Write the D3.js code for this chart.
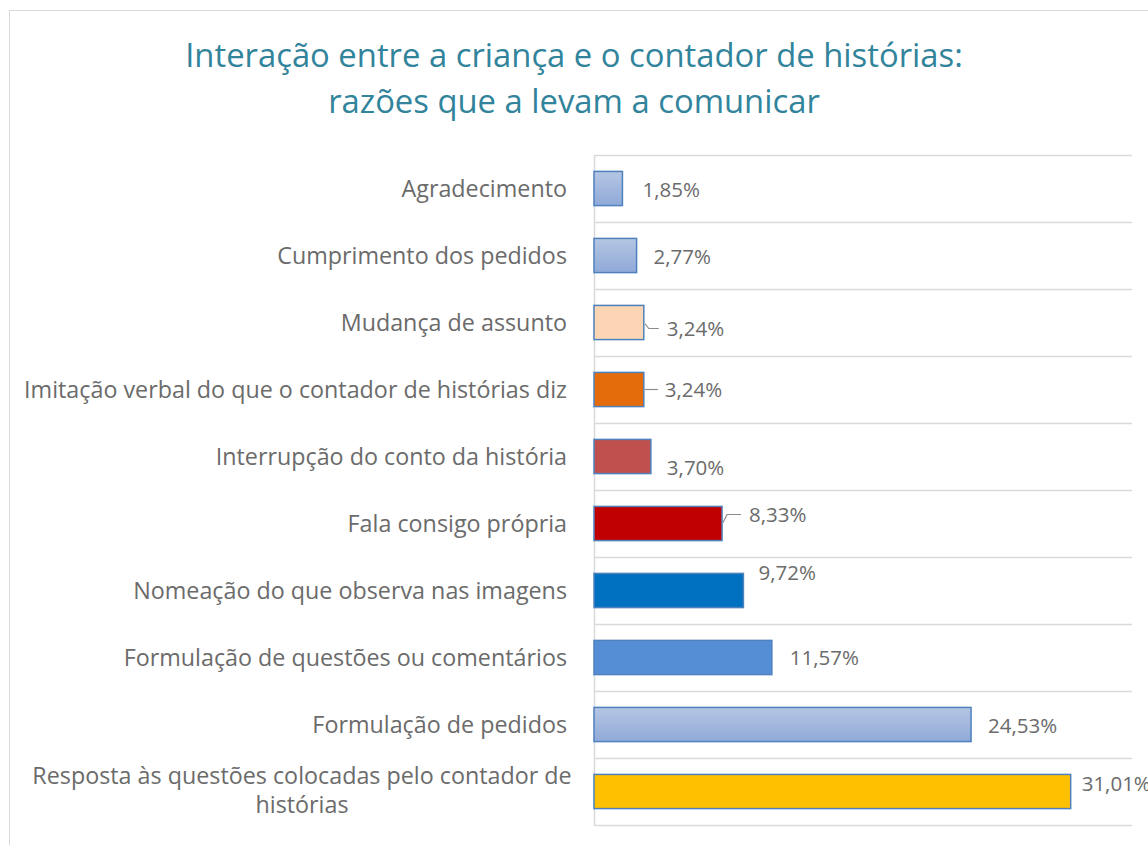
<!DOCTYPE html>
<html>
<head>
<meta charset="utf-8">
<script src="https://cdn.jsdelivr.net/npm/d3@7"></script>
<style>
    body { margin: 0; background: #fff; }
    svg { display: block; font-family: "Open Sans", "Noto Sans", sans-serif; }
</style>
</head>
<body>
<div id="chart"></div>
<script>
"use strict";

// Categories, top to bottom as drawn.
var categories = [
    "Agradecimento",
    "Cumprimento dos pedidos",
    "Mudança de assunto",
    "Imitação verbal do que o contador de histórias diz",
    "Interrupção do conto da história",
    "Fala consigo própria",
    "Nomeação do que observa nas imagens",
    "Formulação de questões ou comentários",
    "Formulação de pedidos",
    "Resposta às questões colocadas pelo contador de histórias"
];
var values = [1.85, 2.77, 3.24, 3.24, 3.70, 8.33, 9.72, 11.57, 24.53, 31.01];
var valueLabels = ["1,85%", "2,77%", "3,24%", "3,24%", "3,70%", "8,33%", "9,72%", "11,57%", "24,53%", "31,01%"];
var fills = ["grad", "grad", "#fcd5b5", "#e46c0a", "#c0504d", "#c00000", "#0070c0", "#558ed5", "grad", "#ffc000"];

// Hand-placed data label offsets (dx from bar end, dy from bar centre) and leader lines.
var labelNudge = [[20, 1], [17, 1.5], [23, 6], [21, 0.5], [16, 11], [27, -9], [15, -17.5], [18, 0], [17, 1.5], [11, -7.5]];
var leaders = [null, null, "down", "flat", null, "up", null, null, null, null];

var width = 1148, height = 845;
var plot = {left: 594, right: 1132, top: 155, bottom: 825};

var svg = d3.select("#chart").append("svg")
    .attr("width", width)
    .attr("height", height);

var defs = svg.append("defs");
var grad = defs.append("linearGradient")
    .attr("id", "lightblue")
    .attr("x1", 0).attr("y1", 0).attr("x2", 0).attr("y2", 1);
grad.append("stop").attr("offset", "0%").attr("stop-color", "#b5c6e3");
grad.append("stop").attr("offset", "100%").attr("stop-color", "#8fa9d8");

// Chart frame, cut off at the right and bottom like the reference.
svg.append("rect")
    .attr("x", 9.5).attr("y", 10.5)
    .attr("width", 1200).attr("height", 900)
    .attr("fill", "none")
    .attr("stroke", "#d9d9d9");

// Title
var title = svg.append("text")
    .attr("text-anchor", "middle")
    .attr("fill", "#31849b")
    .style("font-size", "32.8px");
title.append("tspan").attr("x", 574).attr("y", 67)
    .text("Interação entre a criança e o contador de histórias:");
title.append("tspan").attr("x", 574).attr("y", 113)
    .text("razões que a levam a comunicar");

var xScale = d3.scaleLinear()
    .domain([0, 35])
    .range([plot.left, plot.right]);

var yScale = d3.scaleBand()
    .domain(categories)
    .range([plot.top, plot.bottom])
    .paddingInner(0.49)
    .paddingOuter(0.245);

var step = yScale.step();

// Horizontal gridlines at the category boundaries.
svg.append("g")
    .selectAll("line")
    .data(d3.range(categories.length + 1))
    .enter()
    .append("line")
    .attr("x1", plot.left).attr("x2", plot.right)
    .attr("y1", function(i) { return Math.round(plot.top + i * step) + 0.5; })
    .attr("y2", function(i) { return Math.round(plot.top + i * step) + 0.5; })
    .attr("stroke", "#d9d9d9")
    .attr("stroke-width", 1.5);

// Category axis on the left.
var yAxis = d3.axisLeft(yScale).tickSize(0).tickPadding(27);
var axisG = svg.append("g")
    .attr("transform", "translate(" + plot.left + ",0)")
    .call(yAxis);
axisG.select(".domain")
    .attr("stroke", "#d9d9d9")
    .attr("stroke-width", 1.5);
axisG.selectAll(".tick text")
    .attr("fill", "#6b6b6b")
    .attr("dy", "0.38em")
    .style("font-size", "23.3px")
    .style("font-family", "\"Open Sans\", sans-serif")
    .each(function(d) {
        // Wrap the long last category in two centred lines.
        if (d.indexOf("Resposta") === 0) {
            var t = d3.select(this);
            t.text(null).attr("text-anchor", "middle").attr("dy", null);
            t.append("tspan").attr("x", -292).attr("dy", "-0.32em")
                .text("Resposta às questões colocadas pelo contador de");
            t.append("tspan").attr("x", -292).attr("dy", "1.24em")
                .text("histórias");
        }
    });

// Bars
svg.append("g")
    .selectAll("rect")
    .data(categories)
    .enter()
    .append("rect")
    .attr("x", xScale(0))
    .attr("y", function(d) { return yScale(d); })
    .attr("width", function(d, i) { return xScale(values[i]) - xScale(0); })
    .attr("height", yScale.bandwidth())
    .attr("fill", function(d, i) { return fills[i] === "grad" ? "url(#lightblue)" : fills[i]; })
    .attr("stroke", "#4f81bd")
    .attr("stroke-width", 1.5);

// Leader lines
svg.append("g")
    .selectAll("path")
    .data(categories.filter(function(d, i) { return leaders[i]; }))
    .enter()
    .append("path")
    .attr("fill", "none")
    .attr("stroke", "#8c8c8c")
    .attr("stroke-width", 1.2)
    .attr("d", function(d) {
        var i = categories.indexOf(d);
        var x0 = xScale(values[i]) + 1, yc = yScale(d) + yScale.bandwidth() / 2;
        var nd = labelNudge[i];
        var yl = yc + nd[1];
        if (leaders[i] === "flat") {
            return "M" + x0 + "," + yc + "H" + (x0 + nd[0] - 8);
        }
        var bend = leaders[i] === "down" ? yc + 1 : yc - 1;
        return "M" + x0 + "," + bend + "L" + (x0 + 4) + "," + yl + "H" + (x0 + nd[0] - 9);
    });

// Data labels
svg.append("g")
    .selectAll("text")
    .data(categories)
    .enter()
    .append("text")
    .attr("x", function(d, i) { return xScale(values[i]) + labelNudge[i][0]; })
    .attr("y", function(d, i) { return yScale(d) + yScale.bandwidth() / 2 + labelNudge[i][1]; })
    .attr("dy", "0.36em")
    .attr("fill", "#6b6b6b")
    .style("font-size", "20.5px")
    .text(function(d, i) { return valueLabels[i]; });
</script>
</body>
</html>
